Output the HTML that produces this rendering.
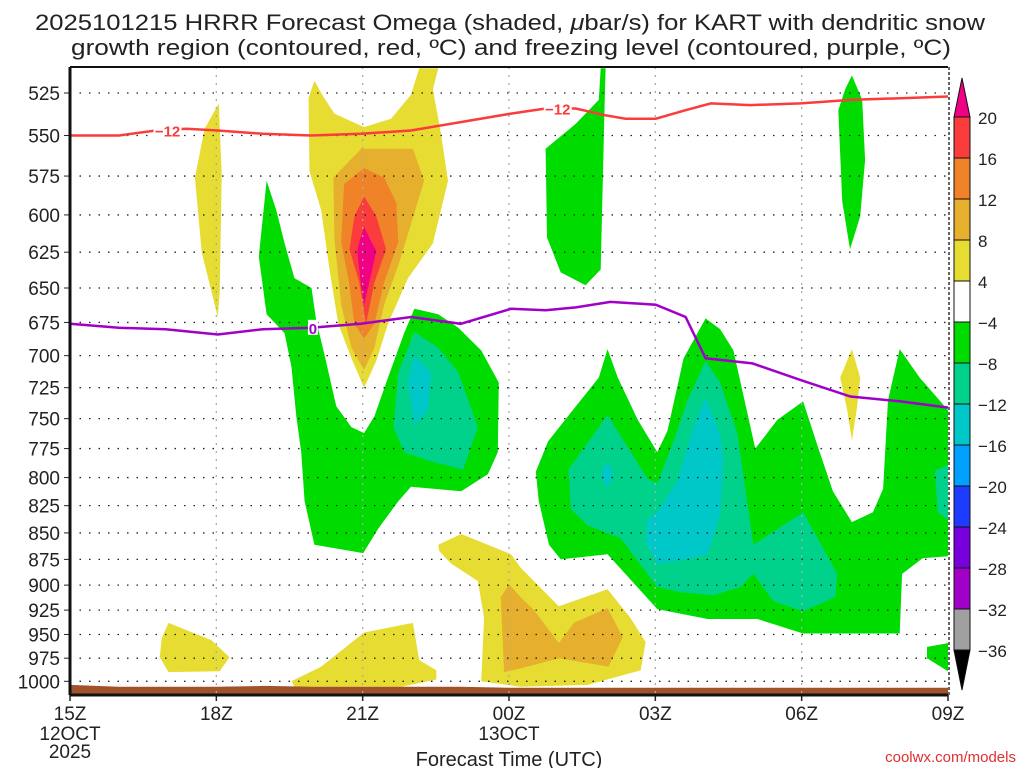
<!DOCTYPE html>
<html><head><meta charset="utf-8"><style>
html,body{margin:0;padding:0;background:#fff;}
svg{display:block;font-family:"Liberation Sans",sans-serif;}
</style></head><body>
<svg id="chart" width="1024" height="768" viewBox="0 0 1024 768" xmlns="http://www.w3.org/2000/svg">
<text x="510" y="30" font-size="22" text-anchor="middle" textLength="950" lengthAdjust="spacingAndGlyphs" fill="#222">2025101215 HRRR Forecast Omega (shaded, <tspan font-style="italic">μ</tspan>bar/s) for KART with dendritic snow</text>
<text x="511" y="55" font-size="22" text-anchor="middle" textLength="880" lengthAdjust="spacingAndGlyphs" fill="#222">growth region (contoured, red, ºC) and freezing level (contoured, purple, ºC)</text>
<g id="shade"></g>
<g id="grid"></g>
<g id="lines"></g>
<g id="axes"></g>
<g id="cbar"></g>
<text x="509" y="766" font-size="20" text-anchor="middle" fill="#222">Forecast Time (UTC)</text>
<text x="1016" y="762" font-size="15" text-anchor="end" fill="#e03030">coolwx.com/models</text>
</svg>
<script>
// ---- data ----
const levels = [525,550,575,600,625,650,675,700,725,750,775,800,825,850,875,900,925,950,975,1000];
const hourTicks = [0,3,6,9,12,15,18];
const hourLabels = ["15Z","18Z","21Z","00Z","03Z","06Z","09Z"];
const cbarLevels = [20,16,12,8,4,-4,-8,-12,-16,-20,-24,-28,-32,-36];
const cbarColors = ["#fa3c3c","#f08228","#e6af2d","#e6dc32","#ffffff","#00dc00","#00d28c","#00c8c8","#00a0ff","#1e3cff","#7800dc","#a000c8","#a0a0a0"];
// -12C line (hour, pressure)
const dgzHours = [0,1.0,1.76,2.38,3.03,3.95,4.94,5.96,6.99,8.01,9.04,9.75,10.37,10.98,11.39,12.01,12.62,13.14,13.95,14.98,16.0,17.03,18];
const dgzPres  = [550,550,547,546,547,549,550,549,547,542,537,534,534,538,540,540,535,531,532,531,529,528,527];
// 0C line
const frzHours = [0,1.0,1.96,3.03,3.95,4.94,5.96,6.99,8.01,9.04,9.75,10.37,11.08,12.01,12.62,13.03,13.99,14.98,16.0,17.03,18];
const frzPres  = [676,679,680,684,680,679,676,671,676,665,666,664,660,662,671,702,706,719,732,736,741];
// terrain surface pressure
const sfcHours = [0,1,2,3,4,5,6,7,8,9,10,11,12,13,14,15,16,17,18];
const sfcPres  = [1004,1006,1006,1006,1005,1006,1006,1006,1006,1007,1007,1007,1007,1007,1007,1007,1007,1007,1007];
// shaded omega regions: [hour, pressure] vertices
const yellowRegions = [
 [[5.01,518],[4.89,528],[4.91,572],[5.15,597],[5.32,637],[5.50,676],[5.77,702],[6.03,725],[6.28,704],[6.52,676],[6.93,643],[7.44,619],[7.75,578],[7.6,548],[7.44,523],[7.55,511],[7.16,511],[6.99,526],[6.58,540],[6.03,545],[5.42,537],[5.19,527]],
 [[3.05,531],[3.11,574],[3.07,654],[3.03,671],[2.70,625],[2.56,576],[2.76,546]],
 [[2.02,938],[2.90,956],[3.27,974],[3.07,989],[2.02,990],[1.84,974],[1.88,954]],
 [[4.54,1000],[5.15,984],[6.03,948],[7.03,938],[7.16,977],[7.51,988],[7.51,998],[6.79,1006],[4.60,1006]],
 [[7.55,861],[8.02,851],[9.04,870],[9.24,883],[10.02,921],[11.02,904],[11.49,933],[11.80,958],[11.70,988],[10.61,1004],[9.24,1006],[8.43,1000],[8.49,933],[8.36,896],[7.81,879],[7.57,867]],
 [[16.03,695],[16.20,717],[16.13,742],[16.03,768],[15.93,742],[15.79,717]]
];
const ltOrangeRegions = [
 [[5.40,576],[5.97,558],[7.03,558],[7.26,578],[6.99,606],[6.73,634],[6.44,662],[6.24,694],[6.03,711],[5.77,694],[5.56,662],[5.42,616]],
 [[9.0,899],[9.24,912],[9.51,925],[10.02,959],[10.33,938],[11.02,923],[11.33,953],[11.04,984],[10.02,975],[9.24,986],[8.90,990],[8.83,912]]
];
const orangeRegions = [
 [[5.62,580],[6.03,570],[6.44,576],[6.69,592],[6.73,618],[6.44,646],[6.24,676],[6.03,687],[5.83,676],[5.71,644],[5.56,618]]
];
const redRegions = [
 [[6.03,588],[6.28,601],[6.48,623],[6.24,646],[6.07,676],[5.93,646],[5.73,623],[5.83,601]]
];
const magentaRegions = [
 [[6.03,608],[6.18,618],[6.28,624],[6.11,650],[6.03,662],[5.97,650],[5.89,624],[5.93,618]]
];
const greenRegions = [
 [[4.03,578],[3.87,628],[4.03,669],[4.40,683],[4.54,709],[4.64,748],[4.74,778],[4.81,821],[5.01,861],[6.01,869],[6.32,846],[6.73,821],[6.99,808],[8.02,812],[8.57,797],[8.77,778],[8.79,721],[8.43,696],[7.96,679],[7.55,669],[7.06,665],[6.85,683],[6.52,717],[6.24,748],[6.03,762],[5.77,757],[5.46,740],[5.21,698],[5.05,674],[4.95,650],[4.60,643],[4.40,619],[4.23,597]],
 [[9.55,795],[9.80,769],[10.27,745],[10.84,717],[11.02,695],[11.23,717],[11.64,751],[12.04,778],[12.25,760],[12.58,702],[13.03,672],[13.33,680],[13.60,696],[14.05,775],[14.50,751],[15.03,736],[15.32,772],[15.64,812],[16.03,840],[16.46,831],[16.67,810],[16.77,735],[17.01,695],[17.42,717],[18,743],[18,872],[17.48,874],[17.06,889],[17.01,949],[15.03,949],[14.09,934],[13.07,934],[12.04,924],[11.29,884],[11.02,870],[10.06,875],[9.82,861],[9.61,821]],
 [[10.88,511],[10.98,511],[10.96,532],[10.88,637],[10.57,648],[10.06,639],[9.78,615],[9.75,558],[10.37,543],[10.84,529]],
 [[16.03,515],[16.24,529],[16.30,565],[16.20,601],[15.99,623],[15.83,591],[15.75,535],[15.89,523]],
 [[18,959],[17.57,963],[17.57,975],[18,989]]
];
const tealRegions = [
 [[7.06,682],[7.55,694],[7.96,713],[8.36,757],[8.06,793],[7.40,786],[6.85,778],[6.63,757],[6.73,713]],
 [[10.22,793],[11.02,747],[11.84,801],[12.04,805],[12.37,769],[12.66,735],[13.03,704],[13.33,721],[13.68,762],[14.01,861],[15.03,831],[15.73,889],[15.69,912],[15.03,926],[14.42,916],[14.01,889],[13.74,902],[13.19,910],[12.52,907],[12.04,902],[11.29,855],[10.61,843],[10.27,828]],
 [[18,789],[17.73,794],[17.79,831],[18,838]]
];
const cyanRegions = [
 [[7.06,700],[7.40,713],[7.34,743],[7.06,755],[6.93,720]],
 [[13.03,733],[13.33,763],[13.39,786],[13.33,833],[13.07,870],[12.52,876],[12.04,879],[11.80,858],[11.84,837],[12.04,831],[12.45,803],[12.78,757]],
 [[11.02,786],[11.14,797],[11.02,810],[10.88,797]]
];
// ---- axes ----
const X0=70, X1=948, Y0=67, Y1=695;
function X(h){ return X0 + h*(X1-X0)/18; }
function Y(p){ return 93 + Math.log(p/525)*913; }
const NS="http://www.w3.org/2000/svg";
function mk(tag, attrs, parent){ const e=document.createElementNS(NS,tag); for(const k in attrs) e.setAttribute(k,attrs[k]); parent.appendChild(e); return e; }
const shade=document.getElementById('shade'), grid=document.getElementById('grid'), lines=document.getElementById('lines'), axes=document.getElementById('axes'), cbar=document.getElementById('cbar');
mk('clipPath',{id:'plotclip'},shade).appendChild(document.createElementNS(NS,'rect'));
const cr=shade.querySelector('clipPath rect'); cr.setAttribute('x',X0); cr.setAttribute('y',Y0); cr.setAttribute('width',X1-X0); cr.setAttribute('height',Y1-Y0);
function drawRegions(regs,color,name){
  regs.forEach(function(r){
    const el=mk('polygon',{points:r.map(function(v){return X(v[0]).toFixed(1)+','+Y(v[1]).toFixed(1);}).join(' '),fill:color,'clip-path':'url(#plotclip)'},shade);
    
    
  });
}
drawRegions(yellowRegions,"#e6dc32","omega-4-8-region");
drawRegions(ltOrangeRegions,"#e6af2d","omega-8-12-region");
drawRegions(orangeRegions,"#f08228","omega-12-16-region");
drawRegions(redRegions,"#fa3c3c","omega-16-20-region");
drawRegions(magentaRegions,"#f00082","omega-over-20-region");
drawRegions(greenRegions,"#00dc00","omega-minus4-minus8-region");
drawRegions(tealRegions,"#00d28c","omega-minus8-minus12-region");
drawRegions(cyanRegions,"#00c8c8","omega-minus12-minus16-region");
// terrain
(function(){
  let pts=sfcHours.map(function(h,i){return X(h).toFixed(1)+','+Y(sfcPres[i]).toFixed(1);});
  pts.push(X1+','+Y1); pts.push(X0+','+Y1);
  const el=mk('polygon',{points:pts.join(' '),fill:'#a0522d'},shade);
  
  
})();
// grid
levels.forEach(function(p){
  const el=mk('line',{x1:X0,x2:X1,y1:Y(p),y2:Y(p),stroke:'#222','stroke-width':1.3,'stroke-dasharray':'1.5 8'},grid);
  
  
  const t=mk('text',{x:60,y:Y(p)+7,'font-size':19,'text-anchor':'end',fill:'#222'},axes);
  t.textContent=p;
  
  
  mk('line',{x1:X0-6,x2:X0,y1:Y(p),y2:Y(p),stroke:'#222','stroke-width':1},axes);
});
hourTicks.forEach(function(h,i){
  if(i>0 && i<hourTicks.length-1){
    const el=mk('line',{x1:X(h),x2:X(h),y1:Y0,y2:Y1,stroke:'#aaa','stroke-width':1.3,'stroke-dasharray':'2 6'},grid);
    
    
  }
  mk('line',{x1:X(h),x2:X(h),y1:Y1,y2:Y1+6,stroke:'#222','stroke-width':1.5},axes);
  const t=mk('text',{x:X(h),y:720,'font-size':19,'text-anchor':'middle',fill:'#222'},axes);
  t.textContent=hourLabels[i];
  
  
});
[["12OCT",X(0),740],["2025",X(0),758],["13OCT",X(9),740]].forEach(function(d){
  const t=mk('text',{x:d[1],y:d[2],'font-size':19,'text-anchor':'middle',fill:'#222'},axes);
  t.textContent=d[0];
  
  
});
// contour lines
function drawLine(hs,ps,color,name){
  const el=mk('polyline',{points:hs.map(function(h,i){return X(h).toFixed(1)+','+Y(ps[i]).toFixed(1);}).join(' '),fill:'none',stroke:color,'stroke-width':2.5},lines);
  
  
}
drawLine(dgzHours,dgzPres,'#fa3c3c','minus12c-contour');
drawLine(frzHours,frzPres,'#a000c8','freezing-level-contour');
function lbl(txt,h,p,color,name){
  mk('rect',{x:X(h)-14,y:Y(p)-8,width:28,height:15,fill:'#fff'},lines);
  const t=mk('text',{x:X(h),y:Y(p)+6,'font-size':15,'font-weight':'bold','text-anchor':'middle',fill:color},lines);
  t.textContent=txt;
  
  
}
lbl('−12',2.0,547,'#fa3c3c','minus12-label-1');
lbl('−12',10.0,534,'#fa3c3c','minus12-label-2');
(function(){
  mk('rect',{x:X(4.98)-5,y:Y(679)-8,width:10,height:15,fill:'#fff'},lines);
  const t=mk('text',{x:X(4.98),y:Y(679)+6,'font-size':15,'font-weight':'bold','text-anchor':'middle',fill:'#a000c8'},lines);
  t.textContent='0';
  
  
})();
// frame
mk('line',{x1:X0,x2:X1,y1:Y0,y2:Y0,stroke:'#111','stroke-width':2},axes);
mk('line',{x1:X0,x2:X0,y1:Y0,y2:Y1,stroke:'#111','stroke-width':3},axes);
mk('line',{x1:X0,x2:X1,y1:Y1,y2:Y1,stroke:'#111','stroke-width':3},axes);
mk('line',{x1:X1+1,x2:X1+1,y1:Y0,y2:Y1,stroke:'#333','stroke-width':1.5,'stroke-dasharray':'3 2'},axes);
// colorbar
const CB0=117, CBH=(650-117)/13, CX=954, CW=16;
mk('polygon',{points:CX+','+CB0+' '+(CX+CW)+','+CB0+' '+(CX+CW/2)+',78',fill:'#f00082',stroke:'#111','stroke-width':1},cbar);
cbarColors.forEach(function(c,i){
  const el=mk('rect',{x:CX,y:CB0+i*CBH,width:CW,height:CBH,fill:c,stroke:'#111','stroke-width':1},cbar);
  
  
});
mk('polygon',{points:CX+','+(CB0+13*CBH)+' '+(CX+CW)+','+(CB0+13*CBH)+' '+(CX+CW/2)+',690',fill:'#000',stroke:'#111','stroke-width':1},cbar);
cbarLevels.forEach(function(v,i){
  const t=mk('text',{x:978,y:CB0+i*CBH+7,'font-size':17,fill:'#222'},cbar);
  t.textContent=(v<0?'−'+(-v):String(v));
  
  
});
</script>
</body></html>
